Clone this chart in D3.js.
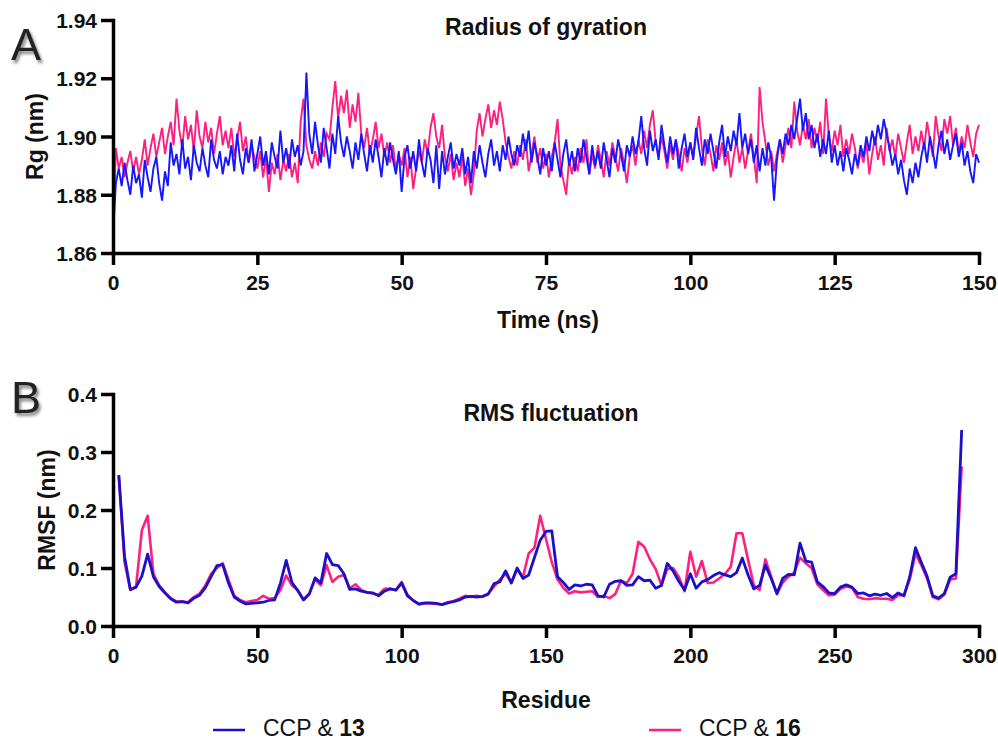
<!DOCTYPE html>
<html>
<head>
<meta charset="utf-8">
<script src="https://cdn.jsdelivr.net/npm/d3@7"></script>
<style>
  body { margin: 0; background: #fff; }
  svg text { font-family: "Liberation Sans", Arial, sans-serif; }
</style>
</head>
<body>
<svg id="wrapper" width="998" height="741"></svg>
<script>
// 1. Data
// Radius of gyration, sampled every 0.5 ns
const rgTime = d3.range(0, 150.01, 0.5)
const rgCCP13 = [
  1.866,1.884,1.889,1.883,1.891,1.885,1.880,1.890,1.884,1.887,1.879,1.892,1.886,1.881,1.889,1.893,1.884,1.878,1.888,1.883,
  1.898,1.890,1.894,1.887,1.899,1.889,1.893,1.885,1.897,1.891,1.888,1.896,1.890,1.886,1.899,1.892,1.889,1.895,1.887,1.893,
  1.890,1.897,1.888,1.901,1.892,1.887,1.896,1.891,1.899,1.888,1.894,1.900,1.890,1.895,1.887,1.898,1.893,1.889,1.902,1.891,
  1.896,1.889,1.899,1.893,1.897,1.890,1.895,1.922,1.901,1.894,1.905,1.897,1.891,1.903,1.896,1.889,1.901,1.894,1.907,1.898,
  1.893,1.900,1.895,1.889,1.898,1.892,1.901,1.894,1.888,1.897,1.891,1.899,1.893,1.886,1.896,1.890,1.898,1.892,1.887,1.895,
  1.881,1.893,1.897,1.889,1.895,1.888,1.899,1.891,1.886,1.896,1.892,1.884,1.897,1.882,1.895,1.887,1.893,1.898,1.889,1.894,
  1.890,1.896,1.887,1.893,1.884,1.895,1.889,1.897,1.891,1.886,1.894,1.899,1.890,1.895,1.888,1.897,1.892,1.900,1.894,1.890,
  1.897,1.893,1.901,1.895,1.902,1.891,1.898,1.893,1.887,1.896,1.890,1.895,1.888,1.898,1.892,1.886,1.894,1.899,1.890,1.895,
  1.888,1.896,1.891,1.899,1.893,1.887,1.897,1.890,1.895,1.889,1.898,1.892,1.886,1.896,1.891,1.899,1.894,1.888,1.897,1.893,
  1.900,1.894,1.898,1.907,1.896,1.890,1.902,1.895,1.899,1.892,1.904,1.897,1.891,1.900,1.894,1.899,1.889,1.896,1.901,1.893,
  1.898,1.892,1.903,1.896,1.890,1.899,1.894,1.901,1.895,1.889,1.898,1.904,1.893,1.900,1.895,1.902,1.897,1.908,1.896,1.901,
  1.894,1.899,1.891,1.897,1.888,1.896,1.890,1.898,1.893,1.878,1.892,1.899,1.894,1.901,1.897,1.904,1.899,1.906,1.913,1.902,
  1.908,1.899,1.904,1.896,1.901,1.893,1.899,1.894,1.902,1.891,1.897,1.890,1.895,1.888,1.896,1.892,1.887,1.894,1.890,1.897,
  1.893,1.900,1.895,1.902,1.897,1.904,1.899,1.906,1.901,1.896,1.890,1.894,1.887,1.892,1.885,1.880,1.889,1.884,1.891,1.886,
  1.893,1.898,1.891,1.900,1.895,1.889,1.897,1.902,1.894,1.899,1.892,1.897,1.901,1.893,1.898,1.890,1.895,1.888,1.884,1.894,
  1.891
]
const rgCCP16 = [
  1.866,1.896,1.889,1.893,1.886,1.891,1.895,1.888,1.893,1.887,1.892,1.899,1.890,1.896,1.901,1.893,1.898,1.903,1.894,1.900,
  1.905,1.897,1.913,1.902,1.896,1.907,1.899,1.904,1.895,1.909,1.900,1.896,1.905,1.898,1.903,1.894,1.901,1.907,1.897,1.902,
  1.896,1.903,1.893,1.899,1.905,1.895,1.900,1.891,1.897,1.893,1.889,1.895,1.886,1.893,1.881,1.891,1.887,1.894,1.885,1.892,
  1.888,1.894,1.886,1.891,1.884,1.905,1.913,1.897,1.892,1.889,1.895,1.890,1.898,1.893,1.901,1.899,1.910,1.919,1.906,1.914,
  1.908,1.916,1.903,1.911,1.905,1.915,1.901,1.896,1.903,1.894,1.899,1.905,1.896,1.901,1.893,1.898,1.891,1.897,1.888,1.894,
  1.890,1.896,1.886,1.893,1.882,1.889,1.895,1.891,1.899,1.894,1.903,1.908,1.900,1.896,1.904,1.893,1.888,1.894,1.885,1.891,
  1.886,1.893,1.883,1.889,1.880,1.887,1.902,1.908,1.900,1.906,1.911,1.903,1.909,1.904,1.912,1.906,1.898,1.893,1.889,1.895,
  1.890,1.897,1.892,1.899,1.888,1.894,1.900,1.891,1.896,1.889,1.894,1.886,1.893,1.898,1.906,1.890,1.885,1.880,1.892,1.887,
  1.893,1.888,1.896,1.891,1.899,1.887,1.894,1.889,1.897,1.892,1.886,1.895,1.890,1.898,1.893,1.888,1.896,1.891,1.884,1.893,
  1.897,1.890,1.899,1.894,1.902,1.896,1.904,1.909,1.898,1.893,1.900,1.895,1.889,1.897,1.892,1.899,1.894,1.888,1.896,1.891,
  1.898,1.893,1.900,1.907,1.896,1.890,1.899,1.894,1.888,1.897,1.892,1.898,1.890,1.895,1.886,1.893,1.899,1.891,1.896,1.889,
  1.895,1.901,1.893,1.884,1.917,1.905,1.898,1.890,1.895,1.888,1.894,1.899,1.891,1.897,1.903,1.896,1.912,1.902,1.897,1.904,
  1.899,1.906,1.896,1.903,1.898,1.905,1.894,1.913,1.900,1.895,1.902,1.897,1.904,1.893,1.899,1.894,1.901,1.896,1.889,1.895,
  1.891,1.898,1.887,1.894,1.900,1.892,1.897,1.890,1.903,1.895,1.899,1.893,1.901,1.896,1.891,1.898,1.904,1.894,1.900,1.895,
  1.902,1.896,1.905,1.899,1.893,1.907,1.900,1.895,1.906,1.901,1.907,1.897,1.903,1.894,1.900,1.896,1.904,1.898,1.893,1.901,
  1.904
]

// RMS fluctuation per residue (every 2nd residue)
const residues = d3.range(2, 295, 2)
const rmsfCCP13 = [
  0.260,0.120,0.063,0.067,0.086,0.124,0.085,0.068,0.057,0.047,0.041,0.042,0.040,0.048,0.053,0.066,0.085,0.104,0.106,0.074,
  0.050,0.043,0.038,0.039,0.040,0.041,0.044,0.045,0.074,0.113,0.075,0.061,0.045,0.055,0.083,0.074,0.125,0.106,0.104,0.090,
  0.063,0.064,0.060,0.058,0.057,0.052,0.060,0.064,0.062,0.074,0.052,0.044,0.038,0.040,0.040,0.039,0.037,0.040,0.042,0.045,
  0.050,0.051,0.050,0.051,0.055,0.073,0.076,0.095,0.074,0.100,0.082,0.088,0.118,0.148,0.163,0.164,0.085,0.075,0.063,0.071,
  0.069,0.072,0.071,0.052,0.050,0.072,0.077,0.078,0.070,0.071,0.085,0.078,0.079,0.065,0.070,0.108,0.095,0.077,0.062,0.090,
  0.065,0.076,0.080,0.087,0.092,0.088,0.085,0.092,0.117,0.088,0.064,0.070,0.105,0.082,0.056,0.082,0.089,0.088,0.143,0.112,
  0.110,0.076,0.068,0.057,0.056,0.067,0.071,0.067,0.056,0.057,0.052,0.055,0.053,0.056,0.049,0.057,0.052,0.085,0.135,0.110,
  0.086,0.052,0.048,0.056,0.084,0.090,0.338
]
const rmsfCCP16 = [
  0.260,0.110,0.062,0.068,0.165,0.190,0.090,0.070,0.058,0.048,0.042,0.042,0.041,0.050,0.056,0.070,0.090,0.100,0.108,0.080,
  0.052,0.045,0.041,0.043,0.045,0.052,0.047,0.048,0.062,0.087,0.070,0.062,0.046,0.056,0.080,0.070,0.105,0.076,0.085,0.088,
  0.065,0.072,0.062,0.058,0.056,0.054,0.064,0.064,0.062,0.076,0.054,0.044,0.037,0.039,0.039,0.038,0.037,0.041,0.043,0.047,
  0.052,0.050,0.052,0.050,0.056,0.068,0.080,0.090,0.075,0.098,0.084,0.125,0.135,0.190,0.150,0.110,0.080,0.066,0.056,0.060,
  0.058,0.059,0.060,0.050,0.052,0.048,0.055,0.078,0.074,0.090,0.145,0.137,0.115,0.098,0.070,0.098,0.100,0.085,0.060,0.128,
  0.085,0.112,0.074,0.075,0.082,0.090,0.102,0.160,0.160,0.114,0.070,0.062,0.115,0.085,0.055,0.075,0.085,0.092,0.118,0.108,
  0.100,0.072,0.062,0.053,0.054,0.064,0.068,0.066,0.050,0.047,0.046,0.048,0.047,0.047,0.045,0.053,0.053,0.080,0.125,0.105,
  0.082,0.050,0.046,0.054,0.080,0.082,0.275
]

const rgTicksX = [0, 25, 50, 75, 100, 125, 150]
const rgTicksY = [1.86, 1.88, 1.90, 1.92, 1.94]
const rmsfTicksX = [0, 50, 100, 150, 200, 250, 300]
const rmsfTicksY = [0.0, 0.1, 0.2, 0.3, 0.4]
const seriesNames = ["CCP & ", "CCP & "]
const seriesIds = ["13", "16"]

// 2. Dimensions
const plotLeft = 113, plotRight = 979
const panelA = { top: 20, bottom: 253 }
const panelB = { top: 394, bottom: 626 }

const pink = "#ff1f7e"
const blueA = "#1616ff"
const blueB = "#1b10c8"

const svg = d3.select("#wrapper")

const defs = svg.append("defs")
const shadow = defs.append("filter").attr("id", "shadow")
  .attr("x", "-20%").attr("y", "-20%").attr("width", "160%").attr("height", "160%")
shadow.append("feDropShadow")
  .attr("dx", 2).attr("dy", 3).attr("stdDeviation", 1.6)
  .attr("flood-color", "#555").attr("flood-opacity", 0.7)

// 3. Scales
const xA = d3.scaleLinear().domain([0, 150]).range([plotLeft, plotRight])
const yA = d3.scaleLinear().domain([1.86, 1.94]).range([panelA.bottom, panelA.top])
const xB = d3.scaleLinear().domain([0, 300]).range([plotLeft, plotRight])
const yB = d3.scaleLinear().domain([0, 0.4]).range([panelB.bottom, panelB.top])

// 4. Lines
const lineA = d3.line().x((d, i) => xA(rgTime[i])).y(d => yA(d))
const lineB = d3.line().x((d, i) => xB(residues[i])).y(d => yB(d))

svg.append("path").attr("d", lineA(rgCCP16))
  .attr("fill", "none").attr("stroke", pink).attr("stroke-width", 1.9)
svg.append("path").attr("d", lineA(rgCCP13))
  .attr("fill", "none").attr("stroke", blueA).attr("stroke-width", 1.9)

svg.append("path").attr("d", lineB(rmsfCCP16))
  .attr("fill", "none").attr("stroke", pink).attr("stroke-width", 2.6)
  .attr("stroke-linejoin", "round")
svg.append("path").attr("d", lineB(rmsfCCP13))
  .attr("fill", "none").attr("stroke", blueB).attr("stroke-width", 2.8)
  .attr("stroke-linejoin", "round")

// 5. Axes
function styleAxis(g, horizontal) {
  g.select(".domain").attr("stroke-width", 3.5).attr("stroke-linecap", "square")
  g.selectAll(".tick line").attr("stroke-width", 3.5)
  const t = g.selectAll(".tick text")
    .attr("font-size", 21).attr("font-weight", "bold")
    .attr("font-family", "'Liberation Sans', Arial, sans-serif")
    .attr("fill", "#111")
  if (horizontal) t.attr("dy", null).attr("y", 37)
  else t.attr("x", -16).attr("dy", "0.36em")
  g.attr("font-family", null)
}

svg.append("g")
  .attr("transform", `translate(0,${panelA.bottom})`)
  .call(d3.axisBottom(xA).tickValues(rgTicksX).tickSize(12).tickSizeOuter(0))
  .call(g => styleAxis(g, true))
svg.append("g")
  .attr("transform", `translate(${plotLeft},0)`)
  .call(d3.axisLeft(yA).tickValues(rgTicksY).tickFormat(d3.format(".2f")).tickSize(12).tickSizeOuter(0))
  .call(g => styleAxis(g, false))

svg.append("g")
  .attr("transform", `translate(0,${panelB.bottom})`)
  .call(d3.axisBottom(xB).tickValues(rmsfTicksX).tickSize(12).tickSizeOuter(0))
  .call(g => styleAxis(g, true))
svg.append("g")
  .attr("transform", `translate(${plotLeft},0)`)
  .call(d3.axisLeft(yB).tickValues(rmsfTicksY).tickFormat(d3.format(".1f")).tickSize(12).tickSizeOuter(0))
  .call(g => styleAxis(g, false))

// 6. Titles and labels
const midX = (plotLeft + plotRight) / 2
function label(x, y, txt, size, rotate) {
  const t = svg.append("text")
    .attr("x", x).attr("y", y)
    .attr("text-anchor", "middle")
    .attr("font-size", size).attr("font-weight", "bold")
    .attr("fill", "#111")
    .text(txt)
  if (rotate) t.attr("transform", `rotate(-90,${x},${y})`)
  return t
}
label(midX, 35, "Radius of gyration", 23)
label(midX + 5, 421, "RMS fluctuation", 23)
label(midX + 2, 328, "Time (ns)", 23)
label(midX, 708, "Residue", 23)
label(43, (panelA.top + panelA.bottom) / 2, "Rg (nm)", 23, true)
label(55, (panelB.top + panelB.bottom) / 2, "RMSF (nm)", 23, true)

// panel letters
svg.append("text").attr("x", 11).attr("y", 60)
  .attr("font-size", 45).attr("fill", "#222")
  .attr("filter", "url(#shadow)").text("A")
svg.append("text").attr("x", 11).attr("y", 413)
  .attr("font-size", 45).attr("fill", "#222")
  .attr("filter", "url(#shadow)").text("B")

// 7. Legend
const legendItems = [
  { x: 213, color: blueB, name: seriesNames[0], id: seriesIds[0] },
  { x: 649, color: pink, name: seriesNames[1], id: seriesIds[1] },
]
legendItems.forEach(d => {
  svg.append("line")
    .attr("x1", d.x).attr("x2", d.x + 32)
    .attr("y1", 730).attr("y2", 730)
    .attr("stroke", d.color).attr("stroke-width", 2.5)
  const t = svg.append("text")
    .attr("x", d.x + 50).attr("y", 736)
    .attr("font-size", 23).attr("fill", "#111")
  t.append("tspan").text(d.name)
  t.append("tspan").attr("font-weight", "bold").text(d.id)
})
</script>
</body>
</html>
